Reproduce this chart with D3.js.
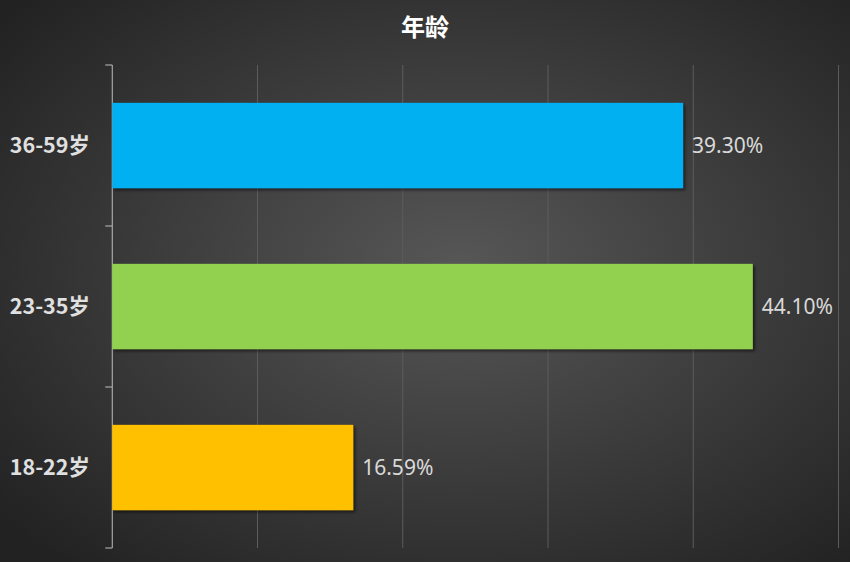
<!DOCTYPE html>
<html>
<head>
<meta charset="utf-8">
<script src="https://cdn.jsdelivr.net/npm/d3@7"></script>
<style>
  html, body { margin: 0; padding: 0; background: #2a2a2a; }
  svg { display: block; }
</style>
</head>
<body>
<div id="chart"></div>
<script>
// data
const categories = ['36-59岁', '23-35岁', '18-22岁'];
const values = [39.30, 44.10, 16.59];
const colors = ['#00B0F0', '#92D050', '#FFC000'];
const xTicks = [0, 10, 20, 30, 40, 50];
const title = '年龄';

const width = 850;
const height = 562;
const margin = { top: 65, right: 11.5, bottom: 14, left: 112.25 };

const svg = d3.select('#chart')
    .append('svg')
    .attr('width', width)
    .attr('height', height);

const defs = svg.append('defs');

// background radial gradient
const grad = defs.append('radialGradient')
    .attr('id', 'bg')
    .attr('cx', '54%')
    .attr('cy', '48%')
    .attr('r', '70%');
grad.append('stop').attr('offset', '0%').attr('stop-color', '#575757');
grad.append('stop').attr('offset', '100%').attr('stop-color', '#222222');

// bar shadow
const shadow = defs.append('filter')
    .attr('id', 'shadow')
    .attr('x', '-5%').attr('y', '-10%')
    .attr('width', '115%').attr('height', '130%');
shadow.append('feDropShadow')
    .attr('dx', 2).attr('dy', 2)
    .attr('stdDeviation', 1.8)
    .attr('flood-color', '#000')
    .attr('flood-opacity', 0.55);

svg.append('rect')
    .attr('width', width)
    .attr('height', height)
    .attr('fill', 'url(#bg)');

const xScale = d3.scaleLinear()
    .domain([0, 50])
    .range([margin.left, width - margin.right]);

const yScale = d3.scaleBand()
    .domain(categories)
    .range([margin.top, height - margin.bottom])
    .paddingInner(0.47)
    .paddingOuter(0.235);

// gridlines
svg.append('g')
    .attr('class', 'gridlines')
    .selectAll('line')
    .data(xTicks.slice(1))
    .join('line')
    .attr('x1', (d) => xScale(d))
    .attr('x2', (d) => xScale(d))
    .attr('y1', margin.top)
    .attr('y2', height - margin.bottom)
    .attr('stroke', '#5c5c5c')
    .attr('stroke-width', 1);

// y axis
const yAxis = svg.append('g').attr('class', 'y-axis');
yAxis.append('line')
    .attr('x1', margin.left).attr('x2', margin.left)
    .attr('y1', margin.top).attr('y2', height - margin.bottom)
    .attr('stroke', '#bfbfbf');
yAxis.selectAll('.tick')
    .data(d3.range(categories.length + 1).map((i) => margin.top + i * yScale.step()))
    .join('line')
    .attr('class', 'tick')
    .attr('x1', margin.left - 7).attr('x2', margin.left)
    .attr('y1', (d) => d).attr('y2', (d) => d)
    .attr('stroke', '#bfbfbf');

yAxis.selectAll('text')
    .data(categories)
    .join('text')
    .attr('x', 90)
    .attr('y', (d) => yScale(d) + yScale.bandwidth() / 2)
    .attr('dy', '0.35em')
    .attr('text-anchor', 'end')
    .attr('fill', '#e0e0e0')
    .style('font-family', '"Noto Sans CJK SC", "Noto Sans", sans-serif')
    .style('font-weight', 'bold')
    .style('font-size', '21.5px')
    .text((d) => d);

// bars
svg.append('g')
    .attr('class', 'bars')
    .selectAll('rect')
    .data(values)
    .join('rect')
    .attr('x', xScale(0))
    .attr('y', (d, i) => yScale(categories[i]))
    .attr('width', (d) => xScale(d) - xScale(0))
    .attr('height', yScale.bandwidth())
    .attr('fill', (d, i) => colors[i])
    .attr('filter', 'url(#shadow)');

// value labels
svg.append('g')
    .attr('class', 'labels')
    .selectAll('text')
    .data(values)
    .join('text')
    .attr('x', (d) => xScale(d) + 9)
    .attr('y', (d, i) => yScale(categories[i]) + yScale.bandwidth() / 2)
    .attr('dy', '0.35em')
    .attr('fill', '#d9d9d9')
    .style('font-family', '"Noto Sans", "Noto Sans CJK SC", sans-serif')
    .style('font-size', '21px')
    .text((d) => d.toFixed(2) + '%');

// title
svg.append('text')
    .attr('x', width / 2)
    .attr('y', 28)
    .attr('dy', '0.35em')
    .attr('text-anchor', 'middle')
    .attr('fill', '#ffffff')
    .style('font-family', '"Noto Sans CJK SC", sans-serif')
    .style('font-weight', 'bold')
    .style('font-size', '24px')
    .text(title);
</script>
</body>
</html>
